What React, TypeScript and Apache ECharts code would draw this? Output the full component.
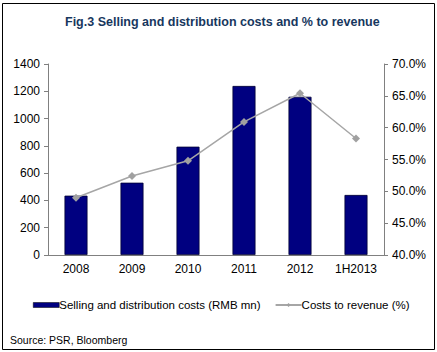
import React, { useEffect, useRef } from "react";
import * as echarts from "echarts";

const categories = ["2008", "2009", "2010", "2011", "2012", "1H2013"];
const sellingCosts = [435, 530, 794, 1239, 1160, 440];
const costsToRevenue = [49.0, 52.4, 54.8, 60.9, 65.4, 58.3];
const barName = "Selling and distribution costs (RMB mn)";
const lineName = "Costs to revenue (%)";
const titleText = "Fig.3 Selling and distribution costs and % to revenue";
const sourceText = "Source: PSR, Bloomberg";

export default function App() {
  const ref = useRef<HTMLDivElement>(null);
  useEffect(() => {
    if (!ref.current) return;
    const chart = echarts.init(ref.current, null, { renderer: "svg" });
    const font = "Arial, 'Liberation Sans', sans-serif";
    chart.setOption({
      animation: false,
      backgroundColor: "#ffffff",
      textStyle: { fontFamily: font },
      title: {
        text: titleText,
        left: 60,
        top: 10,
        textStyle: { fontSize: 12.5, fontWeight: "bold", color: "#17375E", fontFamily: font },
      },
      graphic: [
        {
          type: "rect",
          shape: { x: 2.5, y: 3.5, width: 432, height: 346 },
          style: { fill: "none", stroke: "#000", lineWidth: 1 },
          silent: true,
        },
        {
          type: "text",
          left: 10,
          top: 334,
          style: { text: sourceText, fontSize: 10.5, fill: "#000", fontFamily: font },
        },
      ],
      legend: {
        top: 294,
        left: 28,
        itemGap: 14,
        itemWidth: 26,
        itemHeight: 5,
        textStyle: { fontSize: 11.5, color: "#000", fontFamily: font, padding: [0, 0, 0, -5] },
        data: [
          { name: barName, icon: "rect", itemStyle: { color: "#000080", borderColor: "#000", borderWidth: 0.5 } },
          { name: lineName },
        ],
      },
      grid: { left: 48, right: 53, top: 64, bottom: 97 },
      xAxis: {
        type: "category",
        data: categories,
        axisLine: { lineStyle: { color: "#808080", width: 1 } },
        axisTick: { inside: true, length: 4, lineStyle: { color: "#808080" } },
        axisLabel: { fontSize: 12, color: "#000", margin: 8, fontFamily: font },
      },
      yAxis: [
        {
          type: "value",
          min: 0,
          max: 1400,
          interval: 200,
          splitLine: { show: false },
          axisLine: { show: true, lineStyle: { color: "#808080" } },
          axisTick: { show: true, length: 4, lineStyle: { color: "#808080" } },
          axisLabel: {
            fontSize: 12,
            color: "#000",
            margin: 8,
            fontFamily: font,
            formatter: (v: number) => String(v),
          },
        },
        {
          type: "value",
          min: 40,
          max: 70,
          interval: 5,
          position: "right",
          splitLine: { show: false },
          axisLine: { show: true, lineStyle: { color: "#808080" } },
          axisTick: { show: true, length: 4, lineStyle: { color: "#808080" } },
          axisLabel: {
            fontSize: 12,
            color: "#000",
            margin: 8,
            fontFamily: font,
            formatter: (v: number) => v.toFixed(1) + "%",
          },
        },
      ],
      series: [
        {
          name: barName,
          type: "bar",
          data: sellingCosts,
          barWidth: 23,
          itemStyle: { color: "#000080", borderColor: "#000033", borderWidth: 0.8 },
        },
        {
          name: lineName,
          type: "line",
          yAxisIndex: 1,
          data: costsToRevenue,
          symbol: "diamond",
          symbolSize: 8,
          lineStyle: { color: "#A6A6A6", width: 1.5 },
          itemStyle: { color: "#A0A0A0" },
        },
      ],
    });
    return () => chart.dispose();
  }, []);
  return (
    <div
      ref={ref}
      style={{ position: "fixed", left: 0, top: 0, width: 437, height: 352 }}
    />
  );
}
